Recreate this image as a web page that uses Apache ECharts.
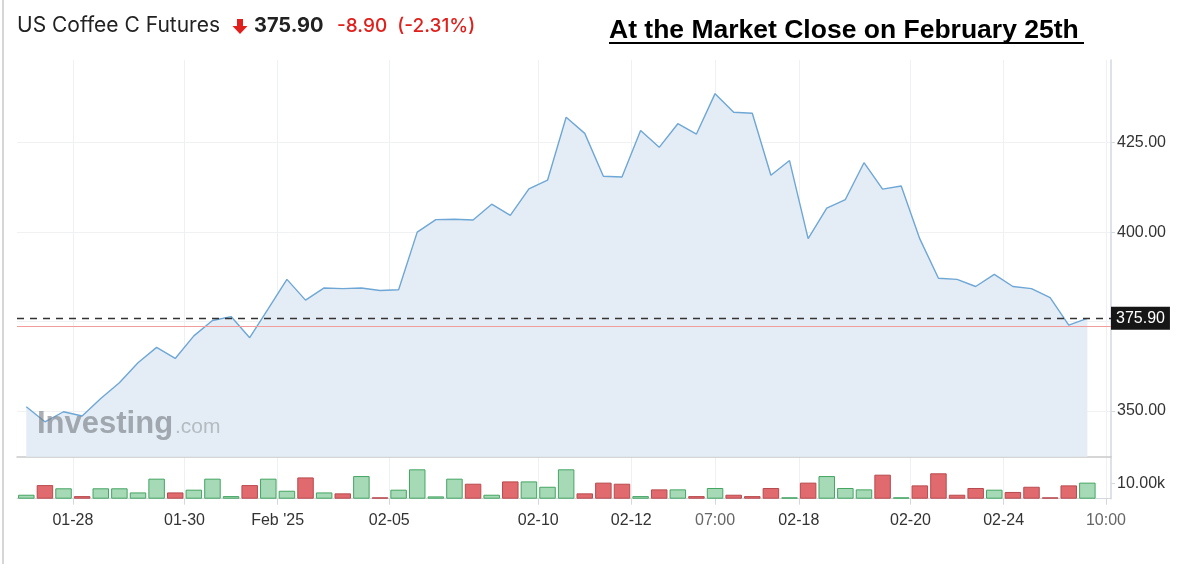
<!DOCTYPE html>
<html><head><meta charset="utf-8">
<script src="https://cdn.jsdelivr.net/npm/echarts@6/dist/echarts.min.js"></script>
<style>html,body{margin:0;padding:0;background:#fff}#c{width:1200px;height:564px}</style>
</head><body><div id="c"></div>
<script>
// ---- data ----
const prices = [351.2,347.0,349.8,348.6,353.5,357.9,363.5,367.8,364.7,371.0,
  375.3,376.4,370.5,378.6,386.8,381.0,384.4,384.2,384.4,383.7,
  383.9,400.0,403.5,403.6,403.4,407.8,404.7,412.1,414.5,432.1,
  427.6,415.6,415.4,428.4,423.7,430.3,427.4,438.7,433.5,433.2,
  415.9,420.0,398.2,406.7,409.1,419.4,412.0,412.9,398.1,387.1,
  386.8,384.8,388.2,384.8,384.2,381.7,374.0,375.9];
const volumes = [2600,8900,6800,1700,6800,6800,4100,13100,4100,5900,
  13100,1700,8900,13100,5200,13900,4100,3500,14800,900,
  5900,19200,1500,13100,9800,2600,11300,11300,7800,19200,
  3500,10500,9800,1700,6100,6100,1700,7000,2600,1700,
  7000,900,10500,14800,7000,6100,15700,900,8700,16600,
  2600,7000,5900,4400,7800,900,8700,10500];
const tickLabels = ['01-28','01-30',"Feb '25",'02-05','02-10','02-12','07:00','02-18','02-20','02-24','10:00'];
const tickPositions = [2.5,8.5,13.5,19.5,27.5,32.5,37,41.5,47.5,52.5,58];
const priceTicks = [350,375,400,425];
const priceLabels = [350,400,425];
const volumeTicks = [10000];
const lastClose = 375.90;
const change = -8.90;
const changePct = -2.31;
const lowLine = 373.8;

const FONT = '"Liberation Sans", Arial, sans-serif';
const UI = 'Inter, "Noto Sans", sans-serif';
const xMin = -0.5, xMax = 58.27;

const priceData = prices.map((v, i) => [i, v]);
const volData = volumes.map((v, i) => {
  const up = i === 0 || prices[i] >= prices[i - 1];
  return {
    value: [i, v],
    itemStyle: up
      ? { color: '#a6d9b6', borderColor: '#45a563', borderWidth: 1 }
      : { color: '#e06a6d', borderColor: '#b94b4f', borderWidth: 1 }
  };
});

const chart = echarts.init(document.getElementById('c'), null, { renderer: 'canvas' });
chart.setOption({
  animation: false,
  textStyle: { fontFamily: FONT },
  grid: [
    { left: 17, right: 89, top: 60, height: 396.7 },
    { left: 17, right: 89, top: 456.7, height: 42 }
  ],
  xAxis: [
    { type: 'value', gridIndex: 0, min: xMin, max: xMax,
      axisLine: { show: true, onZero: false, lineStyle: { color: '#c9c9c9', width: 1.5 } },
      axisTick: { show: false, customValues: tickPositions },
      axisLabel: { show: false, customValues: tickPositions },
      splitLine: { show: true, lineStyle: { color: '#eef0f3' } } },
    { type: 'value', gridIndex: 1, min: xMin, max: xMax,
      axisLine: { show: true, onZero: false, lineStyle: { color: '#d3d8de' } },
      axisTick: { show: true, length: 6, customValues: tickPositions, lineStyle: { color: '#d3d8de' } },
      axisLabel: { customValues: tickPositions, color: '#333', fontSize: 16, margin: 14, fontFamily: FONT,
        formatter: v => { const t = tickLabels[tickPositions.indexOf(v)] || ''; return t.indexOf(':') >= 0 ? '{t|' + t + '}' : t; },
        rich: { t: { color: '#666', fontSize: 16, fontFamily: FONT } } },
      splitLine: { show: true, lineStyle: { color: '#eef0f3' } } }
  ],
  yAxis: [
    { type: 'value', gridIndex: 0, position: 'right', min: 337.24, max: 448.1,
      axisLine: { show: true, onZero: false, lineStyle: { color: '#d3d9e0', width: 1.5 } },
      axisTick: { show: true, length: 4, customValues: priceTicks, lineStyle: { color: '#d3d9e0' } },
      axisLabel: { customValues: priceLabels, color: '#333', fontSize: 16, margin: 6, formatter: v => v.toFixed(2) },
      splitLine: { show: true, lineStyle: { color: '#f0f1f3' } } },
    { type: 'value', gridIndex: 1, position: 'right', min: 0, max: 27450,
      axisLine: { show: true, onZero: false, lineStyle: { color: '#d3d9e0', width: 1.5 } },
      axisTick: { show: true, length: 4, customValues: volumeTicks, lineStyle: { color: '#d3d9e0' } },
      axisLabel: { customValues: volumeTicks, color: '#333', fontSize: 16, margin: 6, formatter: v => (v / 1000).toFixed(2) + 'k' },
      splitLine: { show: false } }
  ],
  series: [
    { type: 'line', xAxisIndex: 0, yAxisIndex: 0, data: priceData, symbol: 'none',
      lineStyle: { color: '#6ea7d5', width: 1.4 },
      areaStyle: { color: '#e4edf5', opacity: 1 },
      markLine: { silent: true, symbol: 'none', animation: false,
        data: [
          { yAxis: lastClose, lineStyle: { color: '#333', type: [7, 6], width: 1.3 },
            label: { show: true, position: 'end', distance: 0, formatter: lastClose.toFixed(2),
              backgroundColor: '#161616', color: '#fff', fontSize: 16, padding: [4, 5, 3, 5], fontFamily: FONT } },
          { yAxis: lowLine, lineStyle: { color: '#f29c9c', type: 'solid', width: 1.2 }, label: { show: false } }
        ] } },
    { type: 'bar', xAxisIndex: 1, yAxisIndex: 1, data: volData, barWidth: 16.5 }
  ],
  graphic: [
    { type: 'rect', left: 2, top: 0, shape: { width: 2, height: 564 }, style: { fill: '#d6d6d6' }, z: 50 },
    { type: 'text', left: 17, top: 15, style: { text: 'US Coffee C Futures', font: '21px ' + UI, fill: '#222' }, z: 50 },
    { type: 'polygon', shape: { points: [[237,19],[243,19],[243,26],[247.5,26],[240,34],[232.5,26],[237,26]] }, style: { fill: '#e0201c' }, z: 50 },
    { type: 'text', left: 254, top: 16, style: { text: lastClose.toFixed(2), font: 'bold 20px ' + UI, fill: '#222' }, z: 50 },
    { type: 'text', left: 337, top: 17, style: { text: change.toFixed(2) + '  (' + changePct.toFixed(2) + '%)', font: '500 19px ' + UI, fill: '#e0201c' }, z: 50 },
    { type: 'text', left: 609, top: 17, style: { text: 'At the Market Close on February 25th', font: 'bold 26.5px "Liberation Sans", Arial, sans-serif', fill: '#000' }, z: 50 },
    { type: 'rect', left: 609, top: 42, shape: { width: 475, height: 2 }, style: { fill: '#000' }, z: 50 },
    { type: 'text', left: 37, top: 409, style: { text: 'Investing', font: 'bold 31px "Liberation Sans", Arial, sans-serif', fill: 'rgba(120,125,130,0.62)' }, z: 40 },
    { type: 'text', left: 175, top: 417, style: { text: '.com', font: '21px "Liberation Sans", Arial, sans-serif', fill: 'rgba(140,145,150,0.55)' }, z: 40 }
  ]
});
</script></body></html>
